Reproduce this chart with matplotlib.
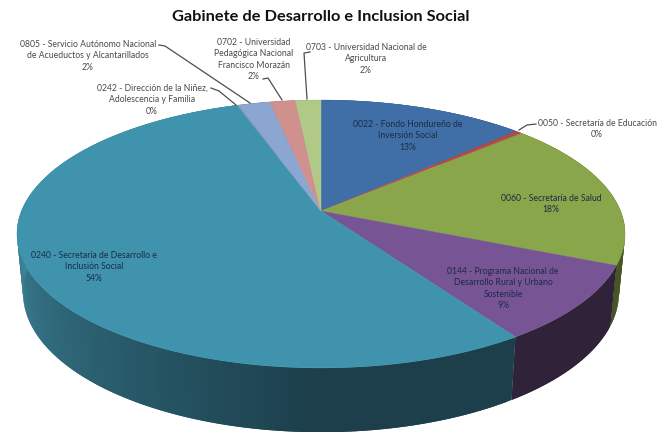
import numpy as np
import matplotlib
matplotlib.use("Agg")
import matplotlib.pyplot as plt

plt.rcParams["font.family"] = ["Lato", "DejaVu Sans"]

# valores, en sentido horario desde las 12
NOMBRES = [
    "0022 - Fondo Hondureño de\nInversión Social",
    "0050 - Secretaría de Educación",
    "0060 - Secretaría de Salud",
    "0144 - Programa Nacional de\nDesarrollo Rural y Urbano\nSostenible",
    "0240 - Secretaría de Desarrollo e\nInclusión Social",
    "0242 - Dirección de la Niñez,\nAdolescencia y Familia",
    "0805 - Servicio Autónomo Nacional\nde Acueductos y Alcantarillados",
    "0702 - Universidad\nPedagógica Nacional\nFrancisco Morazán",
    "0703 - Universidad Nacional de\nAgricultura",
]
PORCENTAJES = [13.0, 0.4, 18.0, 9.2, 54.1, 0.1, 2.0, 1.6, 1.6]
COLORES = ["#3f6fa6", "#b8474a", "#8aa64b", "#775494", "#3f93ad",
           "#6f9cb8", "#8ba6d0", "#d0908e", "#b0c987"]

# color del canto: oscuro al frente, claro hacia la izquierda
CANTO_OSCURO = ["#2a4a70", "#7a2f31", "#465522", "#2f2239", "#1c3f4b",
                "#1c3f4b", "#5c6e8a", "#8a5f5e", "#75855a"]
CANTO_CLARO = ["#2a4a70", "#7a2f31", "#465522", "#2f2239", "#3f8aa0",
               "#3f8aa0", "#5c6e8a", "#8a5f5e", "#75855a"]

# posición de cada etiqueta (centro x, primera línea y) y su color
POS_ETIQUETA = [(408, 119), (597, 118), (551, 193), (503, 266), (94, 250),
                (152, 83), (88, 39), (254, 37), (366, 42)]
FUERA = "#4a4a4a"
DENTRO = "#1d2b45"
COLOR_ETIQUETA = [DENTRO, FUERA, DENTRO, DENTRO, DENTRO, FUERA, FUERA, FUERA, FUERA]

GUIAS = [
    [(536, 124), (527, 125), (519, 130)],
    [(211, 88), (219, 91), (236, 105)],
    [(159, 45), (165, 46), (250, 103)],
    [(263, 79), (268, 78), (282, 100)],
    [(310, 52), (304, 53), (307, 99)],
]

# geometría de la perspectiva, en píxeles de la imagen
CX, CY = 321, 211
A, B, K = 299.5, 130, 0.1716
GROSOR = 58


def tapa(t):
    u, v = np.sin(t), np.cos(t)
    w = 1 + K * v
    return CX + A * u / w, CY - B * v / w


def base(t):
    u, v = np.sin(t), np.cos(t)
    w = 1 + K * v
    return CX + 0.98 * A * u / w, CY + GROSOR - 1.04 * B * v / w


def mezcla(c1, c2, f):
    c1 = np.array(matplotlib.colors.to_rgb(c1))
    c2 = np.array(matplotlib.colors.to_rgb(c2))
    return tuple(c1 + (c2 - c1) * f)


fig = plt.figure(figsize=(6.72, 4.32), dpi=100)
ax = fig.add_axes([0, 0, 1, 1])
ax.set_xlim(0, 672)
ax.set_ylim(432, 0)
ax.axis("off")

limites = np.cumsum([0] + PORCENTAJES) / 100 * 2 * np.pi

# canto, por tramos solapados para el degradado
for i in range(len(PORCENTAJES)):
    ini, fin = limites[i], limites[i + 1]
    n = max(2, int((fin - ini) * 60))
    cortes = np.linspace(ini, fin, n + 1)
    paso = cortes[1] - cortes[0]
    for j in range(n):
        final = min(cortes[j + 1] + paso, fin)
        t = np.linspace(cortes[j], final, 5)
        xt, yt = tapa(t)
        xb, yb = base(t[::-1])
        f = np.clip((np.degrees(cortes[j]) - 180) / 95, 0, 1)
        col = mezcla(CANTO_OSCURO[i], CANTO_CLARO[i], f)
        ax.fill(np.r_[xt, xb], np.r_[yt, yb], color=col, lw=0, zorder=1)

# tapa
for i in range(len(PORCENTAJES)):
    t = np.linspace(limites[i], limites[i + 1], 200)
    xt, yt = tapa(t)
    ax.fill(np.r_[CX, xt], np.r_[CY, yt], color=COLORES[i], lw=0.3, zorder=2)

for puntos in GUIAS:
    xs, ys = zip(*puntos)
    ax.plot(xs, ys, color="#4d4d4d", lw=0.9, zorder=3)

for nombre, p, (x, y), col in zip(NOMBRES, PORCENTAJES, POS_ETIQUETA, COLOR_ETIQUETA):
    ax.text(x, y + 1, f"{nombre}\n{p:.0f}%", ha="center", va="top", fontsize=6.2,
            color=col, linespacing=1.34, zorder=4)

ax.text(321, 17, "Gabinete de Desarrollo e Inclusion Social", ha="center", va="center",
        fontsize=11.8, fontweight="bold", color="#111111")

fig.savefig("out.png", dpi=100)
plt.close(fig)
